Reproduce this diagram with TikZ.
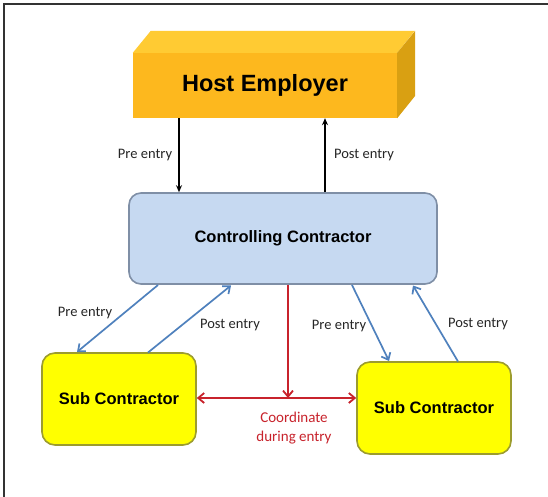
\documentclass[tikz,border=0pt]{standalone}
\usepackage{fontspec}
\setmainfont{Liberation Sans}
\newfontfamily\calib{Carlito}
\usetikzlibrary{arrows.meta}
\definecolor{hefront}{HTML}{FDB81E}
\definecolor{hetop}{HTML}{FFCB33}
\definecolor{heside}{HTML}{D9A012}
\definecolor{ccfill}{HTML}{C6D9F1}
\definecolor{ccdraw}{HTML}{7F8FA6}
\definecolor{subfill}{HTML}{FFFF00}
\definecolor{subdraw}{HTML}{9C9C2E}
\definecolor{bluearr}{HTML}{4F81BD}
\definecolor{redarr}{HTML}{C8232C}
\definecolor{lbl}{HTML}{262626}
\tikzset{
  ccbox/.style={draw=ccdraw, line width=1.6pt, fill=ccfill, rounded corners=12pt, text=black, font=\fontsize{16.5}{18}\selectfont\bfseries},
  subbox/.style={draw=subdraw, line width=1.6pt, fill=subfill, rounded corners=13pt, minimum width=154pt, minimum height=92pt, font=\fontsize{16.5}{18}\selectfont\bfseries},
  lab/.style={font=\calib\fontsize{14.5}{17}\selectfont, text=lbl, inner sep=0pt},
  blackarr/.style={line width=1.6pt, black, -{Stealth[length=7pt,width=6pt]}},
  bluea/.style={line width=1.7pt, bluearr, -{Straight Barb[length=6pt,width=10pt]}},
  reda/.style={line width=1.8pt, redarr},
}
\begin{document}
\begin{tikzpicture}[x=1pt,y=-1pt]
\useasboundingbox (0,0) rectangle (548,497);
\fill[white] (0,0) rectangle (548,497);
% frame
\draw[line width=1.5pt, black!80] (4,497) -- (4,4) -- (548,4);
% Host employer 3D box
\node[fill=hefront, minimum width=264pt, minimum height=65pt, inner sep=0pt, font=\fontsize{23.5}{26}\selectfont\bfseries] (he) at (265,85.5) {Host Employer};
\fill[hetop] (he.north west) -- ++(18,-22) -- ++(264,0) -- (he.north east) -- cycle;
\fill[heside] (he.north east) -- ++(18,-22) -- ++(0,65) -- (he.south east) -- cycle;
% controlling contractor
\node[ccbox, minimum width=308pt, minimum height=91pt] (cc) at (283,238.5) {Controlling\ Contractor};
% sub contractors
\node[subbox] (s1) at (119,399) {Sub Contractor};
\node[subbox] (s2) at (434,408) {Sub Contractor};
% black arrows
\draw[blackarr] (he.south -| 179,0) -- (cc.north -| 179,0);
\draw[blackarr] (cc.north -| 325,0) -- (he.south -| 325,0);
\node[lab] (l1) at (145,155) {Pre entry};
\node[lab] (l2) at (364,155) {Post entry};
% blue arrows
\coordinate (a1) at (158,285);
\coordinate (a2) at (77,352);
\coordinate (a3) at (148,352.5);
\coordinate (a4) at (231,285.5);
\coordinate (a5) at (352,285);
\coordinate (a6) at (389,361);
\coordinate (a7) at (458,361.5);
\coordinate (a8) at (413,285.5);
\draw[bluea] (a1) -- (a2);
\draw[bluea] (a3) -- (a4);
\draw[bluea] (a5) -- (a6);
\draw[bluea] (a7) -- (a8);
\node[lab] (l3) at (85,313) {Pre entry};
\node[lab] (l4) at (230,325) {Post entry};
\node[lab] (l5) at (339,326) {Pre entry};
\node[lab] (l6) at (478,324) {Post entry};
% red arrows
\coordinate (rv) at (288,398);
\draw[reda, -{Straight Barb[length=6pt,width=10pt]}] (cc.south -| 288,0) -- (rv);
\draw[reda, {Straight Barb[length=6pt,width=10pt]}-{Straight Barb[length=6pt,width=10pt]}] (s1.east |- rv) -- (s2.west |- rv);
\node[lab, text=redarr, align=center, font=\calib\fontsize{15}{19}\selectfont] (cd) at (294,428) {Coordinate\\during entry};
\end{tikzpicture}
\end{document}
